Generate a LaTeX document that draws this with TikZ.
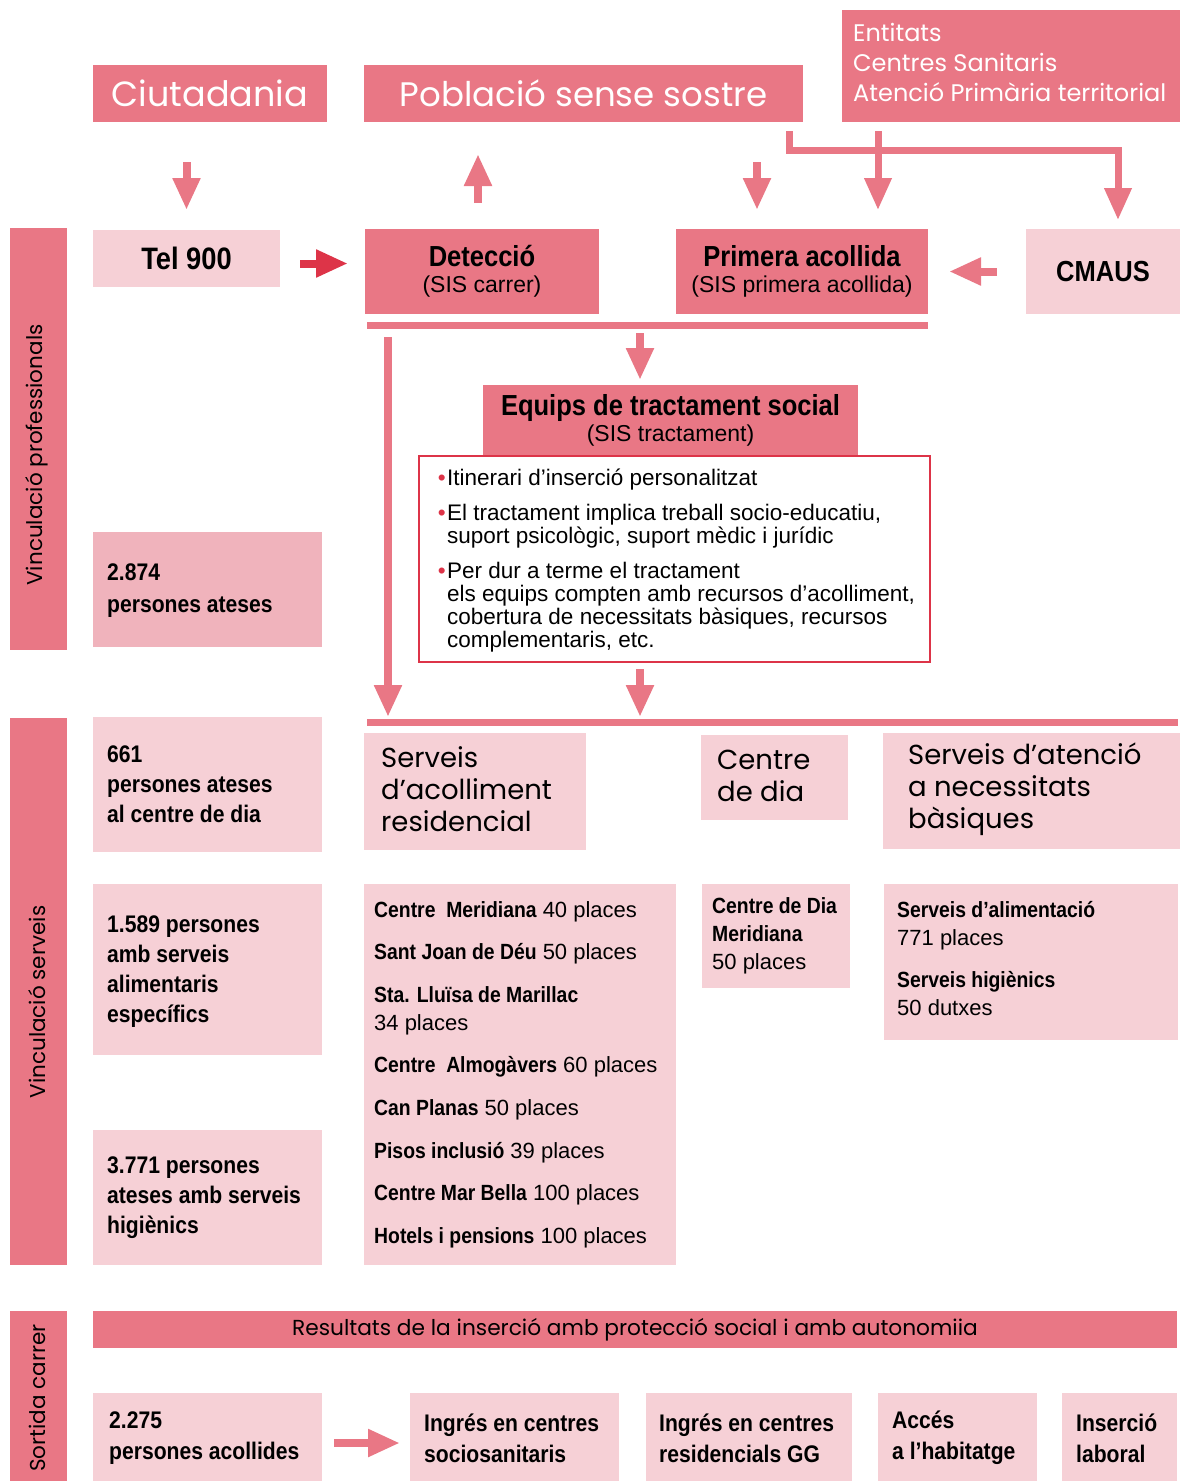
\documentclass[tikz,border=0pt]{standalone}
\usepackage{fontspec}
\setmainfont{Liberation Sans}
\newfontfamily\fgeo{Poppins}
\newfontfamily\fcond[FakeStretch=0.88]{Liberation Sans}
\usetikzlibrary{arrows.meta,calc}
\definecolor{pmain}{RGB}{233,119,133}
\definecolor{plight}{RGB}{246,208,214}
\definecolor{pmid}{RGB}{240,179,188}
\definecolor{predc}{RGB}{221,52,72}
\newcommand\bul{\llap{\textcolor{predc}{•}\hspace{1.5pt}}}
\newcommand\bcond[1]{{\fcond\bfseries #1}}
\begin{document}
\begin{tikzpicture}[x=1pt,y=-1pt,
  box/.style={inner sep=0pt, outer sep=0pt, anchor=north west},
  dk/.style={box, fill=pmain},
  lt/.style={box, fill=plight},
  md/.style={box, fill=pmid},
  txt/.style={inner sep=0pt, align=left, anchor=west},
  sidelbl/.style={rotate=90, inner sep=0pt, font=\fgeo\fontsize{21.5}{21.5}\selectfont},
  boldtxt/.style={txt, font=\fcond\bfseries\fontsize{24}{30}\selectfont},
  geotxt/.style={txt, font=\fgeo\fontsize{27.5}{32}\selectfont},
  arr/.style={draw=pmain, line width=8pt, -{Triangle[length=32pt,width=26pt]}},
  rarr/.style={arr, draw=predc}]
\useasboundingbox (0,0) rectangle (1182,1481);

% side bars
\node[dk, minimum width=57pt, minimum height=422pt] (vp) at (10,228) {};
\node[sidelbl] (vpl) at (37,455) {Vinculació professionals};
\node[dk, minimum width=57pt, minimum height=547pt] (vs) at (10,718) {};
\node[sidelbl] (vsl) at (37,1002) {Vinculació serveis};
\node[dk, minimum width=57pt, minimum height=170pt] (sc) at (10,1311) {};
\node[sidelbl] (scl) at (37,1398) {Sortida carrer};

% top row
\node[dk, minimum width=234pt, minimum height=57pt, text=white, font=\fgeo\fontsize{35}{35}\selectfont] (ciu) at (93,65) {Ciutadania};
\node[dk, minimum width=439pt, minimum height=57pt, text=white, font=\fgeo\fontsize{34}{34}\selectfont] (pob) at (364,65) {Població sense sostre};
\node[dk, minimum width=338pt, minimum height=112pt] (ent) at (842,10) {};
\node[txt, text=white, font=\fgeo\fontsize{24}{30}\selectfont] (entt) at ($(ent.west)+(11,-4)$) {Entitats\\Centres Sanitaris\\Atenció Primària territorial};

% second row
\node[lt, minimum width=187pt, minimum height=57pt, font=\fcond\bfseries\fontsize{31}{31}\selectfont] (tel) at (93,230) {Tel 900};
\node[dk, minimum width=234pt, minimum height=85pt, align=center, font=\fontsize{23}{26}\selectfont] (det) at (365,229) {{\fcond\bfseries\fontsize{29}{26}\selectfont Detecció}\\(SIS carrer)};
\node[dk, minimum width=252pt, minimum height=85pt, align=center, font=\fontsize{23}{26}\selectfont] (prim) at (676,229) {{\fcond\bfseries\fontsize{29}{26}\selectfont Primera acollida}\\(SIS primera acollida)};
\node[lt, minimum width=154pt, minimum height=85pt, font=\fcond\bfseries\fontsize{29}{29}\selectfont] (cmaus) at (1026,229) {CMAUS};

% bars
\node[dk, minimum width=561pt, minimum height=7pt] (bar1) at (367,322) {};
\node[dk, minimum width=811pt, minimum height=7pt] (bar2) at (367,719) {};

% tractament
\node[dk, minimum width=375pt, minimum height=70pt, align=center, font=\fontsize{23}{26}\selectfont] (eq) at (483,385) {{\fcond\bfseries\fontsize{29}{26}\selectfont Equips de tractament social}\\(SIS tractament)};
\node[box, draw=predc, line width=2.5pt, fill=white, minimum width=511pt, minimum height=206pt] (rb) at (419,456) {};
\node[txt, font=\fontsize{22.5}{23}\selectfont] (rbt) at ($(rb.west)+(28,2)$) {\bul Itinerari d’inserció personalitzat\\[12pt]
\bul El tractament implica treball socio-educatiu,\\ suport psicològic, suport mèdic i jurídic\\[12pt]
\bul Per dur a terme el tractament\\ els equips compten amb recursos d’acolliment,\\ cobertura de necessitats bàsiques, recursos\\ complementaris, etc.};

% left info boxes
\node[md, minimum width=229pt, minimum height=115pt] (n2874) at (93,532) {};
\node[boldtxt, font=\fcond\bfseries\fontsize{24}{32}\selectfont] (t2874) at ($(n2874.west)+(14,1)$) {2.874\\persones ateses};
\node[lt, minimum width=229pt, minimum height=135pt] (n661) at (93,717) {};
\node[boldtxt] (t661) at ($(n661.west)+(14,0)$) {661\\persones ateses\\al centre de dia};
\node[lt, minimum width=229pt, minimum height=171pt] (n1589) at (93,884) {};
\node[boldtxt] (t1589) at ($(n1589.west)+(14,2)$) {1.589 persones\\amb serveis\\alimentaris\\específics};
\node[lt, minimum width=229pt, minimum height=135pt] (n3771) at (93,1130) {};
\node[boldtxt] (t3771) at ($(n3771.west)+(14,0)$) {3.771 persones\\ateses amb serveis\\higiènics};

% service headers
\node[lt, minimum width=222pt, minimum height=117pt] (sar) at (364,733) {};
\node[geotxt] (sart) at ($(sar.west)+(17,-2)$) {Serveis\\d’acolliment\\residencial};
\node[lt, minimum width=147pt, minimum height=85pt] (cdd) at (701,735) {};
\node[geotxt] (cddt) at ($(cdd.west)+(16,-2)$) {Centre\\de dia};
\node[lt, minimum width=297pt, minimum height=116pt] (sat) at (883,733) {};
\node[geotxt] (satt) at ($(sat.west)+(25,-2)$) {Serveis d’atenció\\a necessitats\\bàsiques};

% lists
\node[lt, minimum width=312pt, minimum height=381pt] (lst) at (364,884) {};
\node[txt, font=\fontsize{22}{28}\selectfont] (lstt) at ($(lst.west)+(10,0)$) {\bcond{Centre\ \ Meridiana} 40 places\\[14.6pt]
\bcond{Sant Joan de Déu} 50 places\\[14.6pt]
\bcond{Sta. Lluïsa de Marillac}\\34 places\\[14.6pt]
\bcond{Centre\ \ Almogàvers} 60 places\\[14.6pt]
\bcond{Can Planas} 50 places\\[14.6pt]
\bcond{Pisos inclusió} 39 places\\[14.6pt]
\bcond{Centre Mar Bella} 100 places\\[14.6pt]
\bcond{Hotels i pensions} 100 places};
\node[lt, minimum width=148pt, minimum height=104pt] (cdm) at (702,884) {};
\node[txt, font=\fontsize{22}{28}\selectfont] (cdmt) at ($(cdm.west)+(10,0)$) {\bcond{Centre de Dia}\\\bcond{Meridiana}\\50 places};
\node[lt, minimum width=294pt, minimum height=156pt] (ali) at (884,884) {};
\node[txt, font=\fontsize{22}{28}\selectfont] (alit) at ($(ali.west)+(13,-3)$) {\bcond{Serveis d’alimentació}\\771 places\\[14pt]\bcond{Serveis higiènics}\\50 dutxes};

% bottom
\node[dk, minimum width=1084pt, minimum height=37pt, font=\fgeo\fontsize{21.7}{21.7}\selectfont] (res) at (93,1311) {Resultats de la inserció amb protecció social i amb autonomiia};
\node[lt, minimum width=229pt, minimum height=88pt] (p2275) at (93,1393) {};
\node[boldtxt, font=\fcond\bfseries\fontsize{24}{31}\selectfont] (t2275) at ($(p2275.west)+(16,1)$) {2.275\\persones acollides};
\node[lt, minimum width=209pt, minimum height=88pt] (ing1) at (410,1393) {};
\node[boldtxt, font=\fcond\bfseries\fontsize{24}{31}\selectfont] (ting1) at ($(ing1.west)+(14,1)$) {Ingrés en centres\\sociosanitaris};
\node[lt, minimum width=206pt, minimum height=88pt] (ing2) at (646,1393) {};
\node[boldtxt, font=\fcond\bfseries\fontsize{24}{31}\selectfont] (ting2) at ($(ing2.west)+(13,1)$) {Ingrés en centres\\residencials GG};
\node[lt, minimum width=159pt, minimum height=88pt] (acc) at (878,1393) {};
\node[boldtxt, font=\fcond\bfseries\fontsize{24}{31}\selectfont] (tacc) at ($(acc.west)+(14,1)$) {Accés\\a l’habitatge};
\node[lt, minimum width=115pt, minimum height=88pt] (ins) at (1062,1393) {};
\node[boldtxt, font=\fcond\bfseries\fontsize{24}{31}\selectfont] (tins) at ($(ins.west)+(14,1)$) {Inserció\\laboral};

% arrows
\draw[arr, shorten <=40pt, shorten >=20pt] (tel.north |- ciu.south) -- (tel.north);
\coordinate (pu) at ($(det.north)+(-4,0)$);
\draw[arr, shorten <=26pt, shorten >=32pt] (pu) -- (pu |- pob.south);
\coordinate (pa) at ($(prim.north west)+(81,0)$);
\draw[arr, shorten <=40pt, shorten >=19pt] (pa |- pob.south) -- (pa);
\coordinate (pb) at ($(prim.north west)+(202,0)$);
\draw[arr, line width=7pt, shorten <=9pt, shorten >=19pt] (pb |- ent.south) -- (pb);
\coordinate (pc) at ($(pob.south east)+(-14,0)$);
\coordinate (pd) at ($(cmaus.north west)+(92,0)$);
\draw[arr, line width=7pt, shorten <=9pt, shorten >=9pt] (pc) |- ($(pd)+(0,-79)$) -- (pd);
\coordinate (pt) at ($(tel.east)+(0,5)$);
\draw[rarr, shorten <=20pt, shorten >=17pt] (pt) -- (pt -| det.west);
\draw[arr, shorten <=29pt, shorten >=21pt] (cmaus.west) -- (prim.east);
\coordinate (pe) at ($(bar1.south west)+(273,0)$);
\draw[arr, shorten <=4pt, shorten >=5pt] (pe) -- (pe |- eq.north);
\coordinate (pf) at ($(bar1.south west)+(21,0)$);
\draw[arr, shorten <=8pt, shorten >=2pt] (pf) -- (pf |- bar2.north);
\draw[arr, shorten <=7pt, shorten >=2pt] (pe |- rb.south) -- (pe |- bar2.north);
\coordinate (pg) at ($(p2275.east)+(0,6)$);
\draw[arr, shorten <=12pt, shorten >=10pt] (pg) -- (pg -| ing1.west);
\end{tikzpicture}
\end{document}
